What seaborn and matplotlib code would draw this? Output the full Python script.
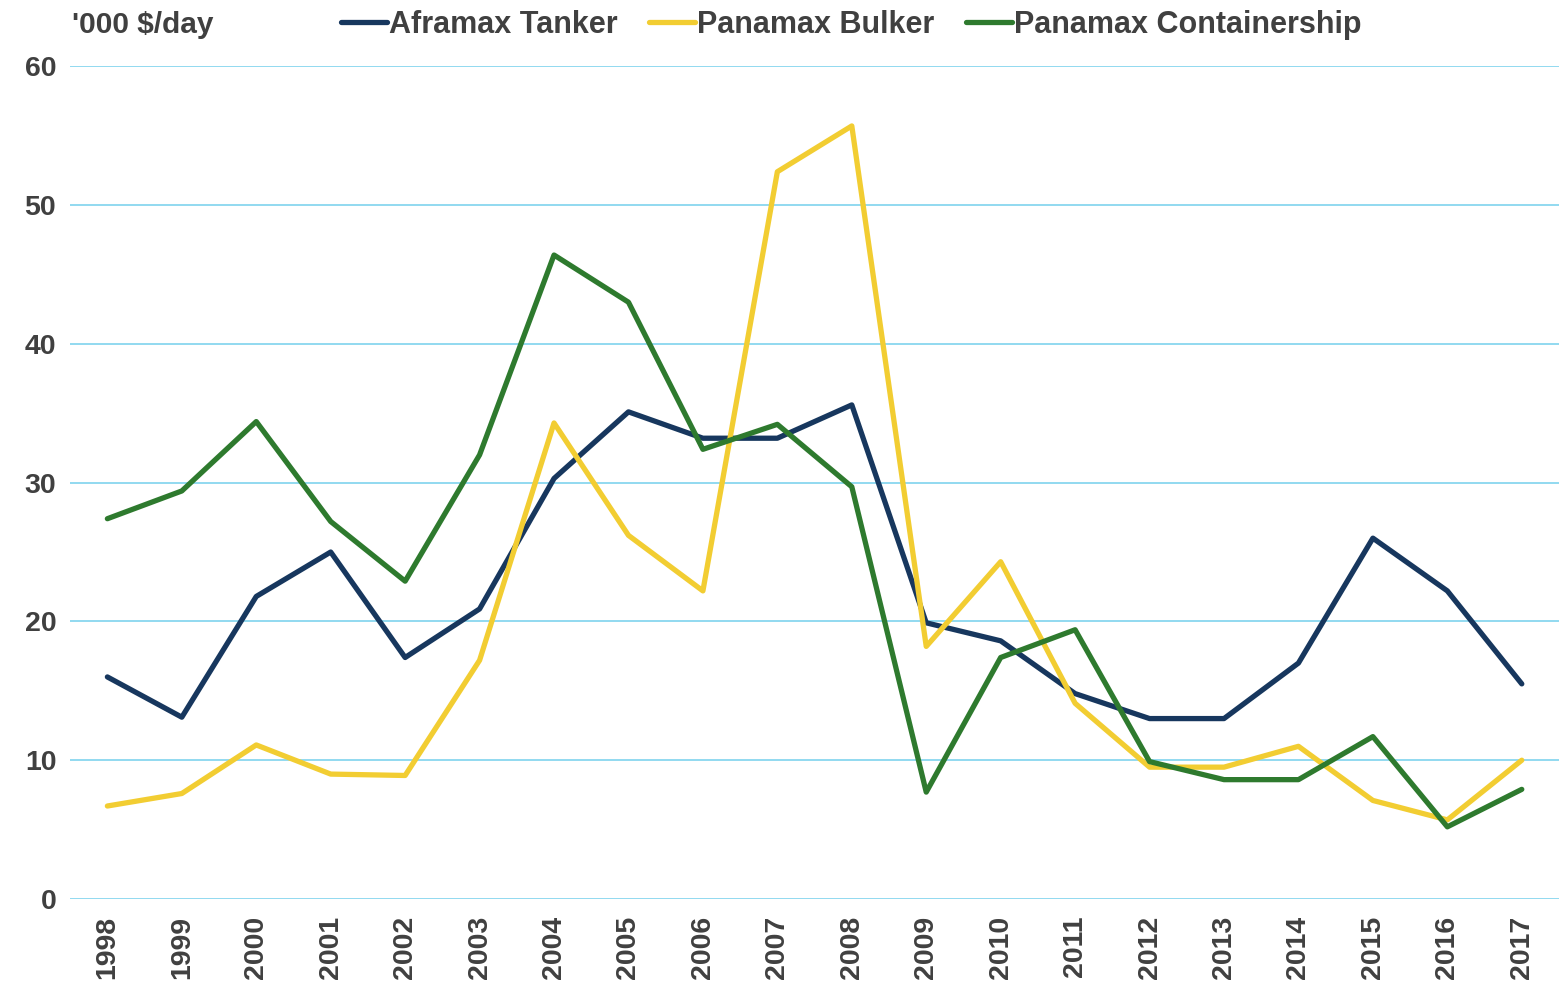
import matplotlib
matplotlib.use("Agg")
import matplotlib.pyplot as plt
import seaborn as sns
import pandas as pd

years = list(range(1998, 2018))
aframax = [16.0, 13.1, 21.8, 25.0, 17.4, 20.9, 30.3, 35.1, 33.2, 33.2, 35.6, 19.9, 18.6, 14.8, 13.0, 13.0, 17.0, 26.0, 22.2, 15.5]
bulker = [6.7, 7.6, 11.1, 9.0, 8.9, 17.2, 34.3, 26.2, 22.2, 52.4, 55.7, 18.2, 24.3, 14.1, 9.5, 9.5, 11.0, 7.1, 5.7, 10.0]
container = [27.4, 29.4, 34.4, 27.2, 22.9, 32.0, 46.4, 43.0, 32.4, 34.2, 29.7, 7.7, 17.4, 19.4, 9.9, 8.6, 8.6, 11.7, 5.2, 7.9]
series_names = ["Aframax Tanker", "Panamax Bulker", "Panamax Containership"]
colors = ["#17375E", "#F2CD32", "#2E7A2E"]

df = pd.DataFrame({"year": years, series_names[0]: aframax,
                   series_names[1]: bulker, series_names[2]: container})
long = df.melt(id_vars="year", var_name="series", value_name="value")

sns.set_style("white")
plt.rcParams["font.family"] = ["Liberation Sans", "DejaVu Sans"]

fig = plt.figure(figsize=(15.59, 9.89), dpi=100)
ax = fig.add_axes([0.045, 0.091, 0.955, 0.842])

sns.lineplot(data=long, x="year", y="value", hue="series", hue_order=series_names,
             palette=colors, linewidth=3.8, ax=ax, legend=True)

ax.set_xlim(1997.5, 2017.5)
ax.set_ylim(0, 60)
ax.set_yticks(range(0, 61, 10))
ax.set_xticks(years)
ax.set_xticklabels([str(y) for y in years], rotation=90, fontsize=20.5,
                   fontweight="bold", color="#404040")
ax.set_yticklabels([str(v) for v in range(0, 61, 10)], fontsize=20.5,
                   fontweight="bold", color="#404040")
ax.grid(axis="y", color="#7FD3EE", linewidth=1.2)
ax.set_axisbelow(True)
for s in ax.spines.values():
    s.set_visible(False)
ax.tick_params(axis="x", length=0, pad=12)
ax.tick_params(axis="y", length=0, pad=10)
ax.set_xlabel("")
ax.set_ylabel("")

handles, labels = ax.get_legend_handles_labels()
ax.get_legend().remove()
fig.legend(handles, labels, loc="center", bbox_to_anchor=(0.546, 0.975),
           ncol=3, frameon=False, handlelength=1.5, handletextpad=0.05,
           columnspacing=1.05, prop={"size": 22, "weight": "bold"},
           labelcolor="#404040", borderaxespad=0, borderpad=0)

fig.text(0.046, 0.975, "'000 $/day", fontsize=21.5, fontweight="bold",
         color="#404040", ha="left", va="center")

fig.savefig("out.png", dpi=100)
